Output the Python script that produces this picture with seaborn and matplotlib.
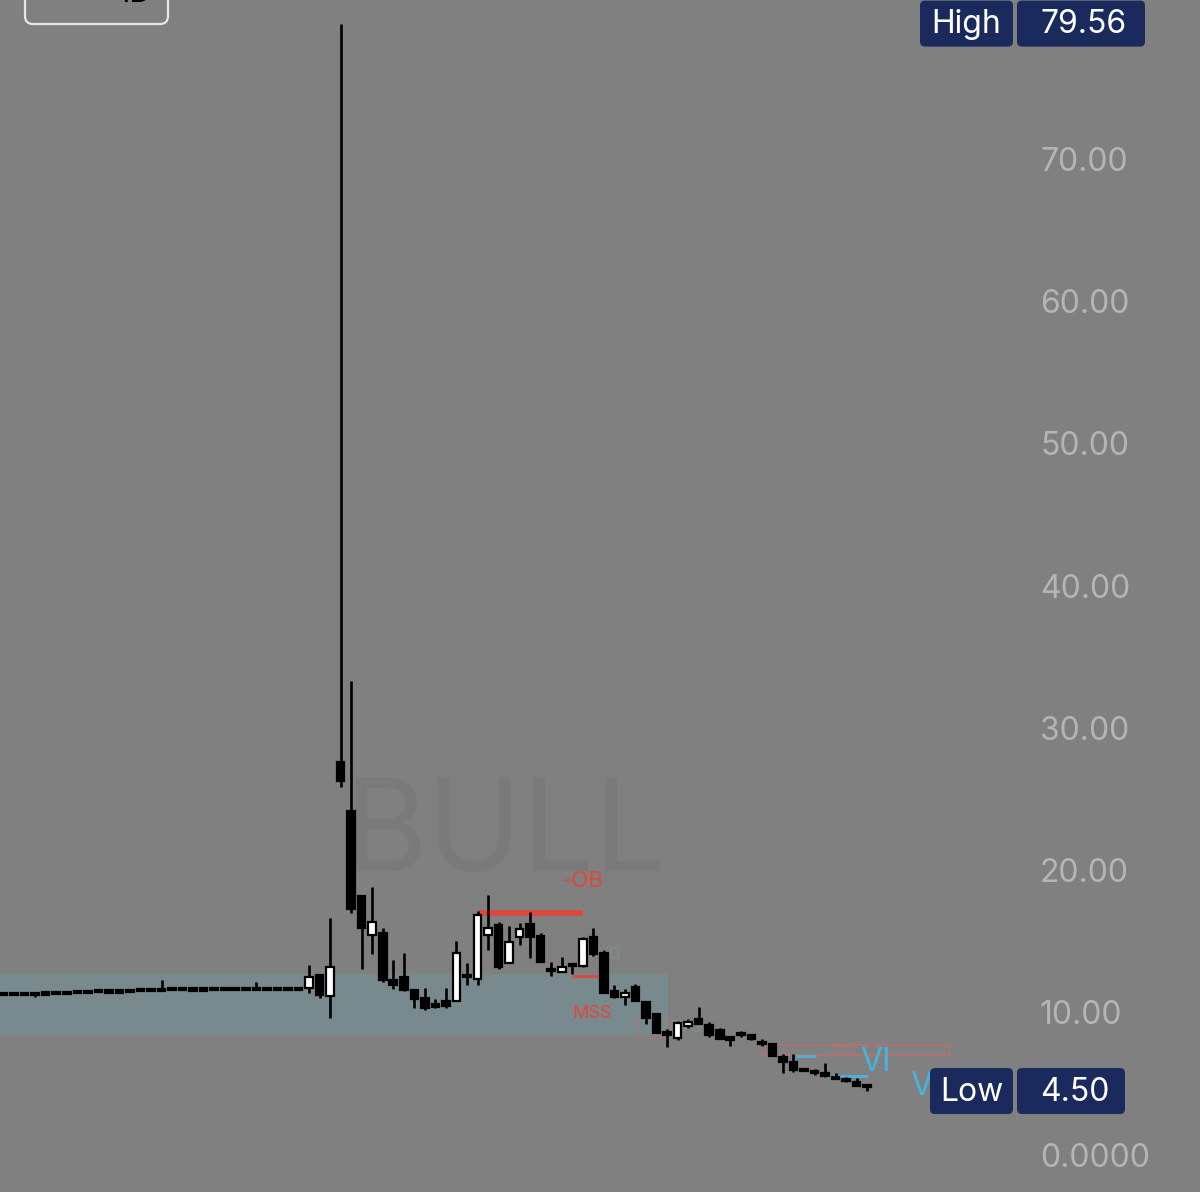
import numpy as np
import seaborn as sns
import matplotlib.pyplot as plt
from matplotlib.patches import Rectangle, FancyBboxPatch
from matplotlib.transforms import blended_transform_factory, offset_copy

# Daily candles, oldest first
opens = [11.32, 11.32, 11.32, 11.33, 11.36, 11.38, 11.40, 11.47, 11.47, 11.52,
         11.50, 11.50, 11.55, 11.60, 11.60, 11.62, 11.68, 11.65, 11.63, 11.63,
         11.66, 11.70, 11.70, 11.66, 11.66, 11.66, 11.66, 11.68, 11.70,
         11.72, 12.66, 11.20, 27.66, 24.19, 18.21, 15.47, 15.63, 12.31, 12.50,
         11.60, 11.02, 10.60, 10.83, 10.85, 12.55, 12.38, 15.47, 16.17, 13.48,
         15.35, 16.24, 15.40, 13.05, 12.85, 13.40, 13.29, 15.31, 14.23, 11.56,
         11.14, 11.79, 10.78, 9.92, 8.60, 8.20, 9.09, 9.54, 9.14, 8.79,
         8.22, 8.52, 8.44, 7.92, 7.81, 6.87, 6.56, 6.00, 5.85, 5.78,
         5.45, 5.30, 5.16, 4.86]
highs = [11.32, 11.32, 11.32, 11.33, 11.36, 11.38, 11.40, 11.47, 11.47, 11.52,
         11.50, 11.50, 11.55, 11.60, 11.60, 12.30, 11.68, 11.65, 11.63, 11.63,
         11.66, 11.70, 11.70, 11.66, 12.15, 11.66, 11.66, 11.85, 11.70,
         13.36, 12.66, 16.65, 79.56, 33.33, 18.30, 18.83, 15.99, 13.71, 14.24,
         11.60, 11.72, 10.95, 11.72, 15.07, 13.48, 17.18, 18.28, 16.40, 16.10,
         16.33, 17.07, 15.59, 13.60, 13.95, 13.40, 15.35, 15.94, 14.42, 11.95,
         11.65, 12.03, 10.78, 9.92, 8.84, 9.45, 9.60, 10.39, 9.33, 8.91,
         8.25, 8.72, 8.50, 8.14, 7.86, 7.08, 7.08, 6.05, 6.06, 6.45,
         5.75, 5.50, 5.39, 4.88]
lows = [11.32, 11.32, 11.32, 11.14, 11.36, 11.38, 11.40, 11.47, 11.47, 11.52,
        11.50, 11.50, 11.55, 11.60, 11.60, 11.62, 11.68, 11.65, 11.63, 11.63,
        11.66, 11.70, 11.70, 11.66, 11.66, 11.66, 11.66, 11.68, 11.70,
        11.37, 11.02, 9.61, 25.86, 17.00, 13.06, 14.14, 12.19, 11.65, 11.55,
        10.36, 10.20, 10.36, 10.32, 10.80, 11.95, 11.95, 14.42, 13.06, 13.48,
        14.77, 13.83, 13.60, 12.59, 12.85, 12.73, 13.20, 13.99, 11.37, 11.04,
        10.55, 10.80, 9.21, 8.56, 7.62, 8.09, 8.90, 9.19, 8.30, 8.14,
        7.67, 8.30, 8.10, 7.67, 6.96, 5.79, 5.86, 5.92, 5.60, 5.46,
        5.40, 5.10, 4.85, 4.50]
closes = [11.32, 11.32, 11.32, 11.33, 11.36, 11.38, 11.40, 11.47, 11.47, 11.52,
          11.50, 11.50, 11.55, 11.60, 11.60, 11.62, 11.68, 11.65, 11.63, 11.63,
          11.66, 11.70, 11.70, 11.66, 11.66, 11.66, 11.66, 11.68, 11.70,
          12.54, 11.25, 13.20, 26.27, 17.28, 15.94, 16.36, 12.31, 11.95, 11.60,
          10.95, 10.36, 10.40, 10.48, 14.23, 12.62, 16.88, 15.94, 13.20, 15.00,
          15.87, 15.35, 13.60, 12.98, 13.20, 13.30, 15.17, 14.14, 11.37, 11.09,
          11.37, 10.85, 9.61, 8.56, 8.50, 9.26, 9.38, 9.19, 8.44, 8.14,
          8.15, 8.48, 8.14, 7.88, 6.96, 6.56, 5.98, 5.95, 5.80, 5.55,
          5.40, 5.25, 4.87, 4.82]

price_ticks = [0, 10, 20, 30, 40, 50, 60, 70]
tick_labels = ["0.0000", "10.00", "20.00", "30.00", "40.00", "50.00", "60.00", "70.00"]
session_high = 79.56
session_low = 4.50

# annotation levels (bar index / price)
range_zone = (-1.0, 63.1, 8.45, 12.75)
ob_level, ob_start, ob_end = 17.0, 45.0, 55.0
mss_level, mss_start, mss_end = 12.6, 54.0, 56.7
bisi_zone = (72.0, 89.9, 7.03, 7.74)
vi_lines = [(75.2, 77.1, 6.96), (78.1, 82.1, 5.56)]

BG = "#808080"
NAVY = "#1b2a5c"
RED = "#e0463c"
BLUE = "#4ab3dc"

sns.set_theme(style="dark", rc={"axes.facecolor": BG, "figure.facecolor": BG})
plt.rcParams["font.family"] = ["Inter", "DejaVu Sans"]

fig = plt.figure(figsize=(12, 11.92), dpi=100)
ax = fig.add_axes([0, 0, 1, 1])
ax.set_xlim(-0.34, 113.6)
ax.set_ylim(-2.60, 81.22)
ax.axis("off")

ui = fig.add_axes([0, 0, 1, 1], zorder=5)
ui.set_xlim(0, 1200)
ui.set_ylim(1192, 0)
ui.axis("off")
ui.patch.set_alpha(0)


def price_px(v):
    return 1192 - ax.transData.transform((0, v))[1]


# watermark
ax.text(505, 838, "BULL", transform=ui.transData, ha="center", va="center",
        fontsize=92, color="#7a7a7a", zorder=0)

# premium/discount range shading
x0, x1, y0, y1 = range_zone
ax.add_patch(Rectangle((x0, y0), x1 - x0, y1 - y0, color="#788a8e", lw=0, zorder=1))

# candles
x = np.arange(len(opens))
o, h, l, c = map(np.array, (opens, highs, lows, closes))
ax.vlines(x, l, h, color="black", lw=1.9, zorder=3)
body = np.maximum(np.abs(c - o), 0.16)
mid = (o + c) / 2
colors = np.where(c > o, "white", "black")
ax.bar(x, body, bottom=mid - body / 2, width=0.72, color=colors,
       edgecolor="black", linewidth=1.6, zorder=4)

# order block / MSS
ax.hlines(ob_level, ob_start, ob_end, color=RED, lw=4, zorder=2)
ax.text(ob_end, 19.25, "-OB", color=RED, fontsize=16, ha="center", va="center")
ax.hlines(mss_level, mss_start, mss_end, color=RED, lw=2, zorder=2)
ax.text(55.9, 9.95, "MSS", color=RED, fontsize=13, ha="center", va="center")

# faint FVG marks
ax.text(57.0, 14.1, "FVG", color="#66c28a", alpha=0.35, fontsize=12, ha="center", va="center")
ax.text(64.8, 8.95, "FVG", color="#66c28a", alpha=0.35, fontsize=12, ha="center", va="center")
ax.add_patch(Rectangle((60.2, 8.3), 2.9, 1.3, fill=False, edgecolor="#c86a6a",
                       alpha=0.45, lw=1.2, zorder=2))

# BISI zone
bx0, bx1, by0, by1 = bisi_zone
ax.add_patch(Rectangle((bx0, by0), bx1 - bx0, by1 - by0, fill=False,
                       edgecolor="#cc6b6b", alpha=0.6, lw=1.4, zorder=2))
ax.text(79.9, 7.4, "BISI", color="#cc6b6b", alpha=0.5, fontsize=10, ha="center", va="center")

# volume imbalance
for a, b, lvl in vi_lines:
    ax.hlines(lvl, a, b, color=BLUE, lw=2, zorder=2)
ax.text(82.8, 6.5, "VI", color=BLUE, fontsize=23, ha="center", va="center")
ax.text(87.1, 4.8, "V", color=BLUE, fontsize=23, ha="center", va="center")

# price axis labels
lab_tr = offset_copy(blended_transform_factory(ax.transAxes, ax.transData), fig=fig,
                     y=-3, units="dots")
for v, s in zip(price_ticks, tick_labels):
    ax.text(1040 / 1200, v, s, transform=lab_tr, ha="left", va="center",
            fontsize=23, color="#b5b5b5")


def tag(level, left, label, value):
    yc = price_px(level)
    ui.add_patch(FancyBboxPatch((left, yc - 23), 1013 - left, 46,
                                boxstyle="round,pad=0,rounding_size=5", fc=NAVY, ec="none"))
    ui.add_patch(FancyBboxPatch((1017, yc - 23), 128 if label == "High" else 108, 46,
                                boxstyle="round,pad=0,rounding_size=5", fc=NAVY, ec="none"))
    ui.text((left + 1013) / 2, yc + 1, label, color="white", fontsize=23, ha="center", va="center")
    ui.text(1040, yc + 1, value, color="white", fontsize=23, ha="left", va="center")


tag(session_high, 920, "High", f"{session_high:.2f}")
tag(session_low, 930, "Low", f"{session_low:.2f}")

# interval selector (cut off at top)
ui.add_patch(FancyBboxPatch((25, -40), 143, 64, boxstyle="round,pad=0,rounding_size=8",
                            fc="none", ec="#e6e6e6", lw=1.6))
ui.text(68, 2, "-", color="#333333", fontsize=22, ha="center", va="baseline")
ui.text(135, 2, "1D", color="black", fontsize=22, ha="center", va="baseline")

fig.savefig("out.png", dpi=100, facecolor=BG)
